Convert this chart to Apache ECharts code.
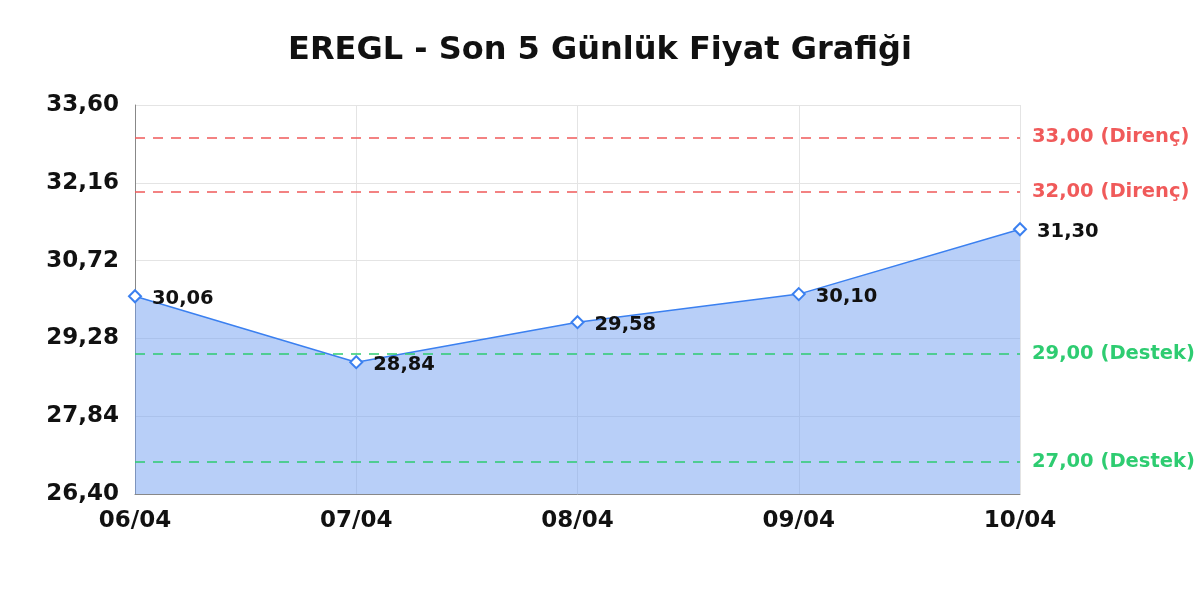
<!DOCTYPE html>
<html>
<head>
<meta charset="utf-8">
<script src="https://cdn.jsdelivr.net/npm/echarts@6/dist/echarts.min.js"></script>
<style>
  html, body { margin: 0; padding: 0; background: #fff; }
  #chart { width: 1200px; height: 600px; }
</style>
</head>
<body>
<div id="chart"></div>
<script>
// data
const days = ["06/04", "07/04", "08/04", "09/04", "10/04"];
const prices = [30.06, 28.84, 29.58, 30.10, 31.30];
const resistance = [33.00, 32.00];
const support = [29.00, 27.00];

const fmt = v => v.toFixed(2).replace(".", ",");
const FONT = "'DejaVu Sans'";

const chart = echarts.init(document.getElementById("chart"));

const levelLine = (value, name, color) => ({
  yAxis: value,
  lineStyle: { color: color, type: [10, 8], width: 1.5 },
  label: {
    position: "end",
    formatter: fmt(value) + " (" + name + ")",
    color: color,
    fontFamily: FONT,
    fontWeight: "bold",
    fontSize: 19.5,
    distance: 12
  }
});

chart.setOption({
  animation: false,
  title: {
    text: "EREGL - Son 5 Günlük Fiyat Grafiği",
    left: "center",
    top: 30,
    textStyle: { fontFamily: FONT, fontWeight: "bold", fontSize: 32, color: "#111" }
  },
  grid: { left: 135, right: 180, top: 105, bottom: 106 },
  xAxis: {
    type: "category",
    data: days,
    boundaryGap: false,
    axisLine: { lineStyle: { color: "#888" } },
    axisTick: { show: false },
    axisLabel: { fontFamily: FONT, fontWeight: "bold", fontSize: 23, color: "#111", margin: 16 },
    splitLine: { show: true, lineStyle: { color: "#e4e4e4" } }
  },
  yAxis: {
    type: "value",
    min: 26.4,
    max: 33.6,
    interval: 1.44,
    axisLine: { show: true, lineStyle: { color: "#888" } },
    axisTick: { show: false },
    axisLabel: {
      fontFamily: FONT, fontWeight: "bold", fontSize: 23, color: "#111", margin: 16,
      formatter: v => fmt(v)
    },
    splitLine: { lineStyle: { color: "#e4e4e4" } }
  },
  series: [{
    type: "line",
    data: prices,
    symbol: "diamond",
    symbolSize: 12,
    lineStyle: { color: "#3b80f0", width: 1.5 },
    itemStyle: { color: "#fff", borderColor: "#3b80f0", borderWidth: 2 },
    areaStyle: { color: "#719ff1", opacity: 0.5 },
    label: {
      show: true,
      position: "right",
      distance: 10,
      offset: [0, 3],
      formatter: p => fmt(p.value),
      fontFamily: FONT,
      fontWeight: "bold",
      fontSize: 19.5,
      color: "#111"
    },
    markLine: {
      silent: true,
      symbol: "none",
      data: [
        levelLine(resistance[0], "Direnç", "#f05a5a"),
        levelLine(resistance[1], "Direnç", "#f05a5a"),
        levelLine(support[0], "Destek", "#2ecc71"),
        levelLine(support[1], "Destek", "#2ecc71")
      ]
    }
  }]
});
</script>
</body>
</html>
